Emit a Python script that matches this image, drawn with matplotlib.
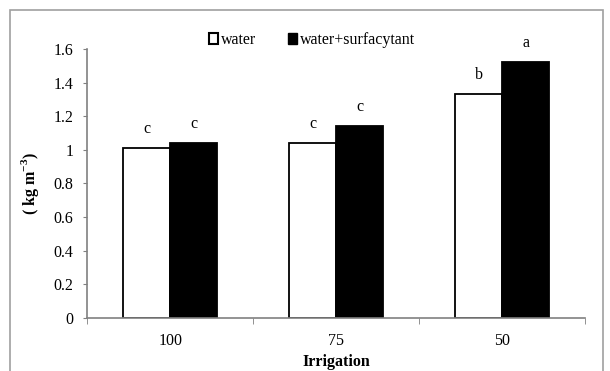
import numpy as np
import matplotlib.pyplot as plt
from matplotlib.patches import Patch, Rectangle

plt.rcParams['font.family'] = ['Liberation Serif', 'DejaVu Serif']
plt.rcParams['mathtext.fontset'] = 'custom'
plt.rcParams['mathtext.rm'] = 'Liberation Serif'
plt.rcParams['mathtext.bf'] = 'Liberation Serif:bold'

# data
categories = ["100", "75", "50"]
water = [1.01, 1.04, 1.33]
surfactant = [1.04, 1.14, 1.52]
water_letters = ["c", "c", "b"]
surf_letters = ["c", "c", "a"]

fs = 11.5

fig = plt.figure(figsize=(6.1, 3.71), dpi=100)
ax = fig.add_axes([0.143, 0.143, 0.816, 0.725])

x = np.arange(len(categories))
w = 0.283
ax.bar(x - w / 2, water, w, color="white", edgecolor="black", linewidth=1.3)
ax.bar(x + w / 2, surfactant, w, color="black", edgecolor="black", linewidth=1.3)

for xi, v, t in zip(x - w / 2, water, water_letters):
    ax.annotate(t, (xi, v), xytext=(0, 11), textcoords="offset points",
                ha="center", va="baseline", fontsize=fs)
for xi, v, t in zip(x + w / 2, surfactant, surf_letters):
    ax.annotate(t, (xi, v), xytext=(0, 11), textcoords="offset points",
                ha="center", va="baseline", fontsize=fs)

ax.set_xlim(-0.5, len(categories) - 0.5)
ax.set_ylim(0, 1.6)
ax.set_yticks(np.arange(0, 1.61, 0.2))
ax.set_yticklabels(["0", "0.2", "0.4", "0.6", "0.8", "1", "1.2", "1.4", "1.6"])
ax.set_xticks(x)
ax.set_xticklabels(categories)
ax.set_xticks(np.arange(-0.5, len(categories), 1), minor=True)
ax.tick_params(axis="x", which="major", length=0, pad=11, labelsize=fs)
ax.tick_params(axis="x", which="minor", length=4, color="#808080", direction="out")
ax.tick_params(axis="y", length=3, color="#808080", labelsize=fs, pad=7)

for s in ["top", "right"]:
    ax.spines[s].set_visible(False)
for s in ["left", "bottom"]:
    ax.spines[s].set_color("#808080")
    ax.spines[s].set_linewidth(1.2)

ax.set_xlabel("Irrigation", fontweight="bold", fontsize=fs, labelpad=3.5)
ax.set_ylabel("( kg m$^{\\mathbf{-3}}$)", fontweight="bold", fontsize=fs, labelpad=9)

handles = [Patch(facecolor="white", edgecolor="black", linewidth=1.5, label="water"),
           Patch(facecolor="black", edgecolor="black", label="water+surfacytant")]
fig.legend(handles=handles, loc="center", bbox_to_anchor=(0.511, 0.892), ncol=2,
           frameon=False, fontsize=fs, handlelength=0.6, handleheight=0.6,
           handletextpad=0.15, columnspacing=2.0)

# outer frame
fig.add_artist(Rectangle((10 / 610, -0.05), 593 / 610, 1 - 10 / 371 + 0.05,
                         transform=fig.transFigure, fill=False,
                         edgecolor="#a0a0a0", linewidth=1.2))

fig.savefig("out.png", dpi=100)
